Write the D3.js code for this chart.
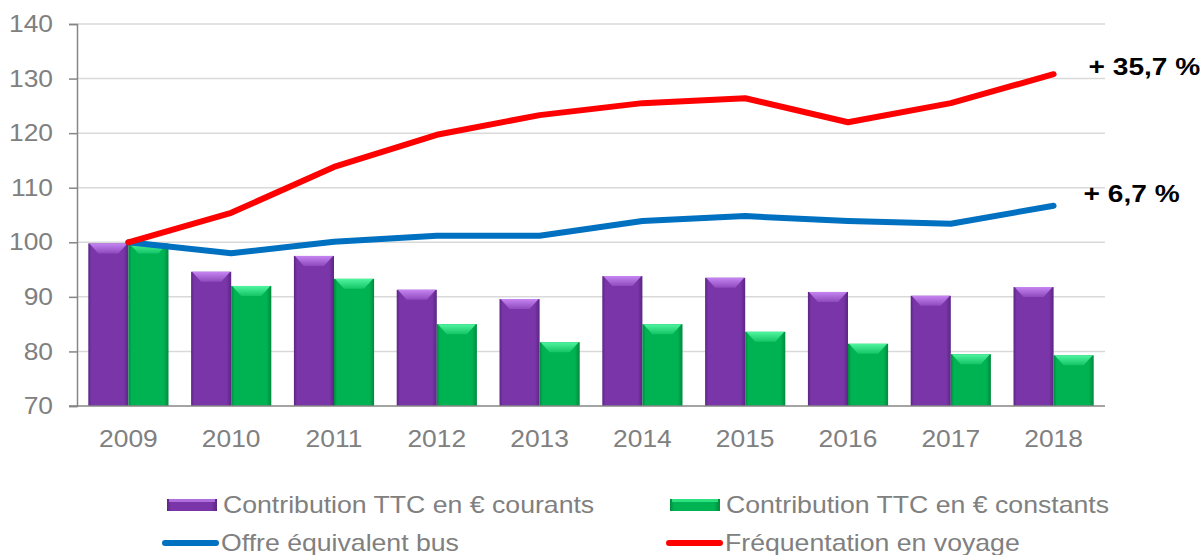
<!DOCTYPE html>
<html>
<head>
<meta charset="utf-8">
<script src="https://cdn.jsdelivr.net/npm/d3@7"></script>
<style>
  html, body { margin: 0; padding: 0; background: #fff; }
  text { font-family: "Liberation Sans", Arial, sans-serif; }
</style>
</head>
<body>
<div id="chart"></div>
<script>
// --- Data ---
const years = ["2009", "2010", "2011", "2012", "2013", "2014", "2015", "2016", "2017", "2018"];
const courants = [99.8, 94.6, 97.5, 91.3, 89.6, 93.8, 93.5, 90.9, 90.2, 91.8];
const constants = [99.8, 92.0, 93.3, 85.0, 81.7, 85.0, 83.6, 81.4, 79.5, 79.3];
const offre = [100, 98.0, 100.1, 101.2, 101.2, 103.9, 104.8, 103.9, 103.4, 106.7];
const frequentation = [100, 105.4, 113.8, 119.7, 123.3, 125.5, 126.4, 122.0, 125.5, 130.8];
const yTicks = [70, 80, 90, 100, 110, 120, 130, 140];
const labelFrequentation = "+ 35,7 %";
const labelOffre = "+ 6,7 %";

const W = 1203, H = 555;
const margin = { top: 24, right: 98, bottom: 149, left: 77 };

const svg = d3.select("#chart").append("svg")
  .attr("width", W).attr("height", H);

// the reference text is a bit wider than Liberation Sans at the same height
function stretch(sel, k) {
  sel.each(function () {
    const len = this.getComputedTextLength();
    d3.select(this).attr("textLength", len * k).attr("lengthAdjust", "spacingAndGlyphs");
  });
}

const x = d3.scaleBand()
  .domain(years)
  .range([margin.left, W - margin.right])
  .paddingInner(0.22).paddingOuter(0.11);

const y = d3.scaleLinear()
  .domain([70, 140])
  .range([H - margin.bottom, margin.top]);

const bw = x.bandwidth() / 2;

// gradients for bevelled bars
const defs = svg.append("defs");
function sideGrad(id, dark, mid) {
  const g = defs.append("linearGradient").attr("id", id)
    .attr("x1", "0%").attr("x2", "100%").attr("y1", "0%").attr("y2", "0%");
  g.append("stop").attr("offset", "0%").attr("stop-color", dark);
  g.append("stop").attr("offset", "8%").attr("stop-color", mid);
  g.append("stop").attr("offset", "88%").attr("stop-color", mid);
  g.append("stop").attr("offset", "100%").attr("stop-color", dark);
}
sideGrad("gPurple", "#5b2585", "#7a36a8");
sideGrad("gGreen", "#008a3e", "#00b352");
function topGrad(id, light, mid) {
  const g = defs.append("linearGradient").attr("id", id)
    .attr("x1", "0%").attr("x2", "0%").attr("y1", "0%").attr("y2", "100%");
  g.append("stop").attr("offset", "0%").attr("stop-color", light);
  g.append("stop").attr("offset", "100%").attr("stop-color", mid);
}
topGrad("tPurple", "#c585f2", "#8e4abc");
topGrad("tGreen", "#50f5a0", "#14c565");

const series = [
  { values: courants, fill: "url(#gPurple)", top: "url(#tPurple)", offset: 0 },
  { values: constants, fill: "url(#gGreen)", top: "url(#tGreen)", offset: 1 }
];

// gridlines
svg.append("g").selectAll("line")
  .data(yTicks.filter(d => d > 70))
  .enter().append("line")
  .attr("x1", margin.left).attr("x2", W - margin.right)
  .attr("y1", d => y(d)).attr("y2", d => y(d))
  .attr("stroke", "#d9d9d9").attr("stroke-width", 1.5);

// bars
const bevel = 10;
series.forEach(s => {
  const g = svg.append("g");
  g.selectAll("rect")
    .data(years)
    .enter().append("rect")
    .attr("x", (d, i) => x(d) + s.offset * bw)
    .attr("y", (d, i) => y(s.values[i]))
    .attr("width", bw)
    .attr("height", (d, i) => y(70) - y(s.values[i]))
    .attr("fill", s.fill);
  g.selectAll("polygon")
    .data(years)
    .enter().append("polygon")
    .attr("points", (d, i) => {
      const x0 = x(d) + s.offset * bw, x1 = x0 + bw, y0 = y(s.values[i]);
      return [[x0 + 1, y0], [x1 - 1, y0], [x1 - bevel, y0 + bevel], [x0 + bevel, y0 + bevel]].join(" ");
    })
    .attr("fill", s.top);
});

// y axis
const yAxis = svg.append("g")
  .attr("transform", `translate(${margin.left},0)`)
  .call(d3.axisLeft(y).tickValues(yTicks).tickSize(8).tickPadding(16));
yAxis.select(".domain").attr("stroke", "#868686").attr("stroke-width", 1.5);
yAxis.selectAll(".tick line").attr("stroke", "#868686").attr("stroke-width", 1.5);
yAxis.selectAll(".tick text")
  .attr("fill", "#808080").attr("font-size", 24)
  .attr("font-family", "Liberation Sans, Arial, sans-serif")
  .call(stretch, 1.1);

// x axis
svg.append("line")
  .attr("x1", margin.left - 8).attr("x2", W - margin.right)
  .attr("y1", y(70)).attr("y2", y(70))
  .attr("stroke", "#868686").attr("stroke-width", 1.5);
svg.append("g").selectAll("text")
  .data(years)
  .enter().append("text")
  .attr("x", d => x(d) + x.bandwidth() / 2)
  .attr("y", y(70) + 41)
  .attr("text-anchor", "middle")
  .attr("font-size", 24).attr("fill", "#808080")
  .text(d => d)
  .call(stretch, 1.1);

// lines
const line = d3.line()
  .x((d, i) => x(years[i]) + x.bandwidth() / 2)
  .y(d => y(d));

svg.append("path").datum(offre)
  .attr("d", line).attr("fill", "none")
  .attr("stroke", "#0070c0").attr("stroke-width", 6)
  .attr("stroke-linecap", "round").attr("stroke-linejoin", "round");
svg.append("path").datum(frequentation)
  .attr("d", line).attr("fill", "none")
  .attr("stroke", "#ff0000").attr("stroke-width", 6)
  .attr("stroke-linecap", "round").attr("stroke-linejoin", "round");

// end labels
const lastX = x(years[years.length - 1]) + x.bandwidth() / 2;
svg.append("text")
  .attr("x", lastX + 35).attr("y", y(frequentation[9]) + 1)
  .attr("font-size", 24).attr("font-weight", "bold").attr("fill", "#000")
  .text(labelFrequentation)
  .call(stretch, 1.17);
svg.append("text")
  .attr("x", lastX + 30).attr("y", y(offre[9]) - 4)
  .attr("font-size", 24).attr("font-weight", "bold").attr("fill", "#000")
  .text(labelOffre)
  .call(stretch, 1.17);

// legend
const legend = svg.append("g");
const legendItems = [
  { label: "Contribution TTC en € courants", type: "bar", fill: "url(#gPurple)", top: "#b779e6", x: 167, y: 505 },
  { label: "Contribution TTC en € constants", type: "bar", fill: "url(#gGreen)", top: "#35e888", x: 670, y: 505 },
  { label: "Offre équivalent bus", type: "line", color: "#0070c0", x: 165, y: 543 },
  { label: "Fréquentation en voyage", type: "line", color: "#ff0000", x: 669, y: 543 }
];
legendItems.forEach(it => {
  if (it.type === "bar") {
    legend.append("rect").attr("x", it.x).attr("y", it.y - 6)
      .attr("width", 50).attr("height", 12).attr("fill", it.fill);
    legend.append("rect").attr("x", it.x + 2).attr("y", it.y - 6)
      .attr("width", 46).attr("height", 3).attr("fill", it.top).attr("opacity", 0.85);
  } else {
    legend.append("line").attr("x1", it.x).attr("x2", it.x + 51)
      .attr("y1", it.y).attr("y2", it.y)
      .attr("stroke", it.color).attr("stroke-width", 6).attr("stroke-linecap", "round");
  }
  legend.append("text")
    .attr("x", it.x + 56).attr("y", it.y + 8)
    .attr("font-size", 24).attr("fill", "#808080")
    .text(it.label)
    .call(stretch, 1.11);
});
</script>
</body>
</html>
